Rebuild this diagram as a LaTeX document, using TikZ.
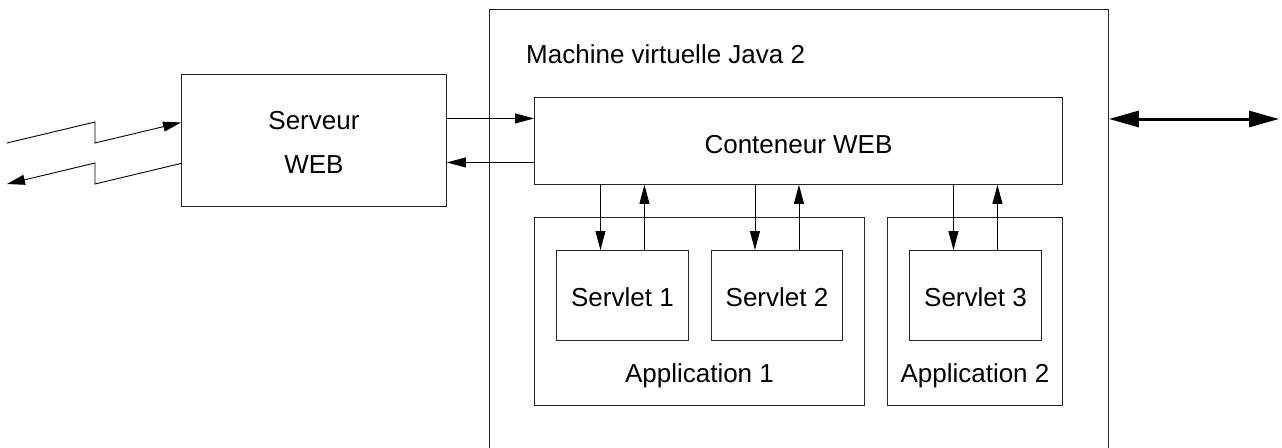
\documentclass[tikz,border=0pt]{standalone}
\usepackage{fontspec}
\setmainfont{Liberation Sans}
\usetikzlibrary{arrows.meta,calc}
\begin{document}
\begin{tikzpicture}[x=1pt,y=-1pt,
  box/.style={draw=black!85,line width=0.9pt,inner sep=0pt,anchor=north west},
  lbl/.style={font=\fontsize{26}{44}\selectfont,inner sep=0pt,anchor=base},
  conn/.style={draw=black,line width=0.9pt,-{Triangle[length=19pt,width=10pt]}},
  zz/.style={draw=black,line width=0.9pt,-{Triangle[length=18pt,width=10pt]}},
  big/.style={draw=black,line width=3pt,{Triangle[length=30pt,width=16pt]}-{Triangle[length=30pt,width=16pt]}}]
\useasboundingbox (0,0) rectangle (1282,447);
\clip (0,0) rectangle (1282,447);
\fill[white] (0,0) rectangle (1282,447);
% boxes
\node[box,minimum width=619pt,minimum height=470pt] (jvm) at (489,9) {};
\node[box,minimum width=265pt,minimum height=132pt] (srv) at (181,74) {};
\node[box,minimum width=528pt,minimum height=87pt] (cont) at (534,97) {};
\node[box,minimum width=330pt,minimum height=188pt] (app1) at (534,217) {};
\node[box,minimum width=175pt,minimum height=188pt] (app2) at (887,217) {};
\node[box,minimum width=132pt,minimum height=90pt] (s1) at (556,250) {};
\node[box,minimum width=131pt,minimum height=90pt] (s2) at (711,250) {};
\node[box,minimum width=132pt,minimum height=90pt] (s3) at (909,250) {};
% labels
\node[lbl,anchor=base west] (tjvm) at (526,63) {Machine virtuelle Java 2};
\node[lbl,align=center] (tsrv) at (srv.center |- 0,173) {Serveur\\WEB};
\node[lbl] (tcont) at (cont.center |- 0,153) {Conteneur WEB};
\node[lbl] (ts1) at (s1.center |- 0,306) {Servlet 1};
\node[lbl] (ts2) at (s2.center |- 0,306) {Servlet 2};
\node[lbl] (ts3) at (s3.center |- 0,306) {Servlet 3};
\node[lbl] (tapp1) at (app1.center |- 0,382) {Application 1};
\node[lbl] (tapp2) at (app2.center |- 0,382) {Application 2};
% attachment points
\coordinate (sin) at ([yshift=18pt]srv.west);
\coordinate (sout) at ([yshift=-23pt]srv.west);
\coordinate (req) at ([yshift=22pt]srv.east);
\coordinate (rep) at ([yshift=-22pt]srv.east);
% zigzag links
\coordinate (zin) at (7,143);
\coordinate (zout) at (7,184);
\draw[zz] (zin) -- (95,122) -- (95,143) -- (sin);
\draw[zz] (sout) -- (95,184) -- (95,163) -- (zout);
% server <-> container
\draw[conn] (req) -- (cont.west |- req);
\draw[conn] (cont.west |- rep) -- (rep);
% container <-> servlets
\foreach \s in {s1,s2,s3}{
  \coordinate (\s d) at ([xshift=-22pt]\s.north);
  \coordinate (\s u) at ([xshift=22pt]\s.north);
  \draw[conn] (\s d |- cont.south) -- (\s d);
  \draw[conn] (\s u) -- (\s u |- cont.south);
}
% external double arrow
\coordinate (ext) at (1279,119);
\draw[big] (jvm.east |- ext) -- (ext);
\end{tikzpicture}
\end{document}
